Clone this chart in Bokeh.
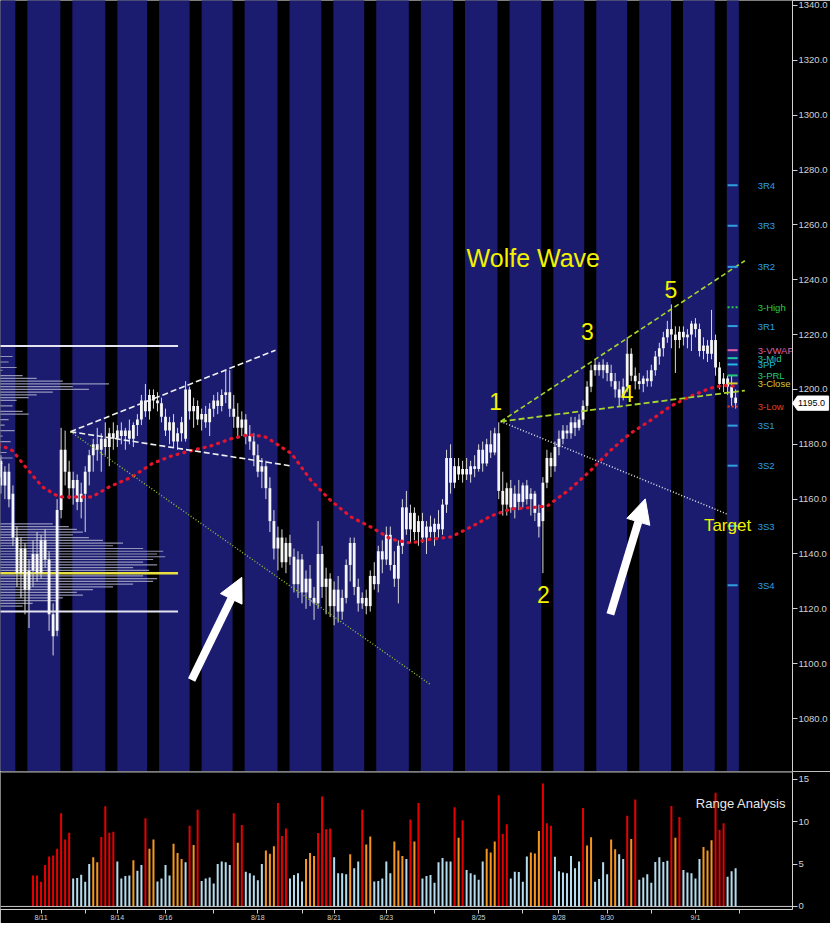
from bokeh.plotting import figure
from bokeh.layouts import column
from bokeh.models import (Range1d, FixedTicker, NumeralTickFormatter, Arrow,
                          NormalHead, Span)
from bokeh.core.properties import value
from bokeh.embed import file_html
from bokeh.resources import INLINE

# ---------------- price bars (OHLC) ----------------
opens = [1175,1172,1168,1174,1165,1170,1162,1146,1133,1142,
         1127,1134,1140,1133,1145,1138,1118,1112,1156,1178,
         1170,1164,1167,1159,1162,1170,1176,1180,1178,1182,
         1179,1184,1182,1185,1183,1185,1182,1187,1189,1196,
         1192,1198,1196,1195,1190,1185,1188,1181,1184,1182,
         1200,1192,1194,1189,1191,1188,1193,1196,1194,1198,
         1199,1193,1190,1186,1189,1183,1181,1176,1170,1172,
         1164,1152,1142,1146,1137,1144,1139,1129,1138,1126,
         1131,1124,1122,1140,1128,1131,1121,1127,1119,1124,
         1136,1144,1128,1122,1124,1121,1132,1129,1141,1138,
         1147,1136,1131,1143,1157,1149,1155,1148,1152,1146,
         1150,1148,1151,1149,1158,1175,1166,1172,1169,1171,
         1169,1172,1171,1178,1173,1180,1177,1184,1163,1158,
         1164,1157,1162,1159,1165,1160,1162,1155,1152,1166,
         1175,1172,1179,1182,1185,1184,1188,1186,1189,1194,
         1201,1207,1209,1207,1209,1206,1203,1200,1197,1201,
         1213,1205,1203,1202,1204,1203,1207,1212,1215,1219,
         1222,1220,1218,1221,1219,1220,1224,1222,1214,1216,
         1213,1218,1208,1202,1204,1201,1197]
highs = [1178,1176,1177,1176,1172,1173,1165,1150,1146,1144,
         1138,1145,1148,1147,1149,1141,1122,1160,1186,1185,
         1174,1170,1169,1166,1172,1178,1182,1186,1184,1188,
         1186,1188,1187,1188,1186,1189,1188,1191,1198,1202,
         1200,1200,1199,1197,1193,1190,1191,1186,1190,1203,
         1201,1197,1196,1193,1194,1195,1198,1199,1200,1207,
         1207,1198,1195,1192,1191,1187,1184,1180,1175,1174,
         1168,1156,1150,1149,1146,1147,1142,1141,1140,1134,
         1136,1128,1152,1143,1135,1133,1130,1132,1127,1138,
         1146,1146,1131,1126,1127,1134,1137,1143,1145,1150,
         1150,1141,1145,1160,1163,1158,1157,1154,1155,1152,
         1154,1153,1156,1160,1178,1180,1175,1175,1174,1175,
         1174,1176,1180,1181,1182,1185,1186,1188,1170,1166,
         1167,1165,1167,1166,1167,1164,1163,1158,1168,1178,
         1177,1181,1185,1187,1187,1190,1190,1191,1196,1203,
         1209,1211,1210,1211,1210,1209,1206,1203,1204,1219,
         1215,1208,1206,1205,1207,1209,1214,1217,1221,1225,
         1231,1223,1223,1223,1222,1225,1226,1224,1219,1218,
         1229,1220,1210,1206,1205,1205,1200]
lows = [1168,1165,1166,1162,1160,1157,1143,1128,1124,1118,
        1113,1128,1130,1131,1135,1112,1103,1110,1153,1165,
        1160,1158,1156,1153,1148,1165,1170,1174,1170,1176,
        1172,1178,1179,1180,1178,1180,1179,1183,1187,1190,
        1189,1193,1192,1188,1183,1180,1179,1178,1181,1181,
        1189,1186,1187,1185,1186,1183,1190,1191,1192,1195,
        1190,1186,1182,1183,1180,1178,1172,1168,1164,1160,
        1148,1138,1134,1135,1133,1136,1126,1124,1122,1120,
        1121,1116,1120,1124,1118,1117,1114,1115,1116,1122,
        1130,1125,1119,1120,1118,1119,1127,1126,1133,1136,
        1134,1128,1122,1140,1147,1144,1145,1143,1144,1140,
        1146,1143,1146,1147,1155,1162,1164,1167,1166,1167,
        1166,1168,1170,1170,1172,1175,1176,1160,1154,1154,
        1155,1153,1156,1157,1158,1154,1152,1146,1133,1164,
        1168,1170,1176,1180,1182,1182,1183,1185,1187,1192,
        1199,1205,1205,1204,1203,1201,1197,1194,1196,1199,
        1203,1200,1200,1199,1201,1201,1205,1209,1212,1217,
        1215,1206,1215,1216,1215,1214,1219,1212,1211,1210,
        1211,1205,1200,1199,1198,1194,1193]
closes = [1172,1168,1174,1165,1170,1160,1146,1133,1142,1127,
          1134,1140,1133,1145,1138,1118,1110,1156,1178,1170,
          1164,1167,1159,1162,1170,1176,1180,1178,1182,1179,
          1184,1182,1185,1183,1185,1182,1187,1189,1196,1192,
          1198,1196,1195,1190,1185,1188,1181,1184,1188,1200,
          1192,1194,1189,1191,1188,1193,1196,1194,1198,1199,
          1193,1190,1186,1189,1183,1181,1176,1170,1172,1164,
          1152,1142,1146,1137,1144,1139,1129,1138,1126,1131,
          1124,1122,1140,1128,1131,1121,1127,1119,1124,1136,
          1144,1128,1122,1124,1121,1132,1129,1141,1138,1147,
          1136,1131,1143,1157,1149,1155,1148,1152,1146,1150,
          1148,1151,1149,1158,1175,1166,1172,1169,1171,1169,
          1172,1171,1178,1173,1180,1177,1184,1163,1158,1164,
          1157,1162,1159,1165,1160,1162,1155,1150,1166,1175,
          1172,1179,1182,1185,1184,1188,1186,1189,1194,1201,
          1207,1209,1207,1209,1206,1203,1200,1197,1201,1213,
          1205,1203,1202,1204,1203,1207,1212,1215,1219,1222,
          1220,1218,1221,1219,1220,1224,1222,1214,1216,1213,
          1218,1208,1202,1204,1201,1197,1195]

# overnight session starts (bar units), each ~3 bars long
night_start_bars = [6.6, 17.8, 29.0, 39.4, 50.0, 60.7, 71.9, 82.8, 93.5, 104.6,
                    115.6, 126.7, 137.6, 148.3, 159.0, 169.9, 180.8]
night_len = 3.0
session_end_bar = 186.8

# moving average (red dotted)
ma_bars = [0.9,5.9,9.1,13.3,17.5,22.5,25.7,30.0,35.7,40.6,45.6,50.5,55.5,60.5,64.7,
           68.7,70.4,75.4,80.3,85.3,90.2,95.2,100.2,105.1,110.1,115.1,120.0,125.0,130.0,
           136.7,139.1,144.8,149.8,154.8,159.7,164.7,169.7,174.6,179.6,182.8,186.5]
ma_values = [1181.0,1177.7,1171.8,1164.5,1160.8,1160.8,1160.8,1164.5,1168.1,1172.9,
             1175.8,1177.7,1179.5,1182.1,1183.5,1182.8,1181.3,1176.6,1166.7,1159.3,
             1153.5,1149.8,1145.4,1144.0,1145.4,1146.2,1149.8,1153.8,1156.4,1157.1,
             1157.5,1163.7,1170.3,1177.7,1183.9,1188.6,1193.8,1197.4,1200.4,1201.5,1201.1]

# volume-at-price profile (left)
profile_prices = [1212,1210,1208,1207,1205,1204,1203,1202,1201,1200,1199,1198,1197,1196,
                  1194,1192,1191,1189,1187,1185,1183,1181,1179,1177,1175,1173,
                  1151,1150,1149,1148,1147,1146,1145,1144,1143,1142,1141,1140,1139,1138,
                  1137,1136,1135,1134,1133,1132,1131,1130,1129,1128,1127,1126,1125,1124,
                  1123,1122,1121]
profile_volume = [5,4,6,2.5,7.5,11,17.5,29,20,24,15,11,9,6,5,7.5,9,4,3,5.5,2.5,4.5,2,3.5,5,2.5,
                  15,19,21,22.5,20,24,27.5,32.5,30,37.5,42.5,41,43,40,37.5,41,35,39,42,37.5,
                  41,40,35,30,25,21,22.5,17.5,16,10,7.5]
profile_vah, profile_val, profile_poc = 1215.8, 1119.0, 1133.0
profile_span_bars = 46.2

# pivot levels
level_names = ["3R4","3R3","3R2","3-High","3R1","3-VWAP","3-Mid","3PP","3-PRL",
               "3-Close","3-Low","3S1","3S2","3S3","3S4"]
level_values = [1274.4,1259.7,1244.7,1230.0,1223.1,1214.3,1211.4,1209.1,1205.1,
                1202.2,1193.8,1186.8,1172.2,1150.2,1128.6]

# Wolfe wave annotation points (bar, price)
wedge_anchor = (20.3, 1184.6)
wedge_upper_end = (71.4, 1214.3)
wedge_lower_end = (74.9, 1172.2)
wedge_target_end = (110.1, 1092.3)
wolfe_p1 = (127.5, 1188.3)
wolfe_13_end = (188.3, 1246.9)
wolfe_14_end = (188.3, 1199.6)
wolfe_target_end = (183.8, 1154.6)
point_names = ["1", "2", "3", "4", "5"]
point_bars = [126.2, 138.1, 149.1, 159.0, 169.9]
point_prices = [1195.6, 1125.3, 1221.2, 1198.5, 1236.6]
arrows = [((50.5, 1094.1), (63.0, 1131.5)), ((154.8, 1118.0), (163.5, 1160.1))]
last_price = 1195.0

# range analysis (lower panel)
vol_values = [3.65,3.65,2.9,4.9,5.9,6.0,6.8,11.0,7.9,8.7,
              3.3,3.35,3.75,2.9,5.0, 5.8,5.2, 8.2,11.8,8.7,8.8, 5.3,3.3,3.6,3.65,
              5.45, 4.2,4.9, 10.4, 6.8,7.9, 2.95,3.3,4.9,3.65, 7.4,6.3,5.6, 5.2,
              9.5, 7.25, 11.4, 3.0,3.3,3.4,2.7,5.0,5.3,5.2,4.9, 11.0, 7.5, 9.6,
              4.1,3.9,3.65,3.1,5.0, 6.6,6.2,7.1, 12.2,8.3,9.2, 3.3,3.7,3.9,2.95,
              5.6,6.3,5.95, 8.65,12.95,9.1,9.2, 5.8,3.9,3.9,3.8, 6.15, 4.5,5.3,
              11.4, 7.3,8.25, 2.95,3.0,3.3,5.3,3.9, 7.65,6.6,5.95, 5.6, 10.25,
              7.65, 12.2, 3.3,3.6,3.7,2.8,5.2,5.7,5.3,5.3, 11.7, 8.1, 10.15,
              4.3,3.9,3.75,3.15,5.3, 6.8,6.35,7.65, 13.1,8.55,9.7,
              3.3,4.1,4.05,2.9,5.9, 6.35,6.25,8.9, 14.5,9.8,9.5,
              5.85,4.15,4.0,3.9,5.95,4.5,5.3, 11.6, 7.2,8.15, 2.9,3.25,5.2,3.8,
              7.9,6.75, 6.15,5.6, 10.7, 7.95, 12.6, 3.15,3.4,3.8,2.8,5.25,5.8,5.25,5.4,
              11.85, 8.1, 10.55, 4.3,4.0,3.9,3.3,5.6, 7.0,6.6,7.8, 13.4,9.0,9.8,
              3.5,4.15,4.5]
vol_class_runs = [("r",10),("b",5),("o",2),("r",4),("b",4),("o",1),("b",2),("r",1),("o",2),
                  ("b",4),("o",3),("b",1),("r",1),("o",1),("r",1),("b",8),("r",1),("o",1),
                  ("r",1),("b",5),("o",3),("r",3),("b",4),("o",3),("r",4),("b",4),("o",1),
                  ("b",2),("r",1),("o",2),("b",5),("o",3),("b",1),("r",1),("o",1),("r",1),
                  ("b",8),("r",1),("o",1),("r",1),("b",5),("o",3),("r",3),("b",5),("o",3),
                  ("r",3),("b",7),("r",1),("o",2),("b",4),("o",2),("b",2),("r",1),("o",1),
                  ("r",1),("b",8),("r",1),("o",1),("r",1),("b",5),("o",3),("r",3),("b",3)]

date_tick_bars = [13, 24, 32, 44, 56, 67, 78, 86, 99, 111, 122, 133, 142, 154, 165, 176, 187]
date_label_bars = [13, 32, 44, 67, 86, 99, 122, 142, 154, 176]
date_label_text = ["8/11", "8/14", "8/16", "8/18", "8/21", "8/23", "8/25", "8/28", "8/30", "9/1"]

# ---------------- styles ----------------
FONT = "Liberation Sans"
BLUE = "#1b1c70"
AXIS = "#d0d0d0"
CHART_LEFT_BAR = 0.92
level_colors = {"3R4": "#2f9fe0", "3R3": "#2f9fe0", "3R2": "#2f9fe0", "3R1": "#2f9fe0",
                "3S1": "#2f9fe0", "3S2": "#2f9fe0", "3S3": "#2f9fe0", "3S4": "#2f9fe0",
                "3-High": "#2ecc40", "3-VWAP": "#e060a0", "3-Mid": "#20c8a0",
                "3PP": "#22b8e8", "3-PRL": "#22cc77", "3-Close": "#d8c830", "3-Low": "#e04020"}
vol_colors = {"r": "#e60000", "o": "#f7961e", "b": "#b4dcee"}
WOLFE_GREEN = "#a6d62c"

n = len(closes)
bars = list(range(n))

# ---------------- main price panel ----------------
X_END = 200.17
p = figure(width=830, height=771, x_range=Range1d(2.9, X_END), y_range=Range1d(1060.7, 1341.8),
           output_backend="svg", toolbar_location=None, x_axis_location=None,
           y_axis_location="right", min_border_left=0, min_border_right=35,
           min_border_top=0, min_border_bottom=0, background_fill_color="black",
           border_fill_color="black", outline_line_color=None)
p.grid.visible = False

# session shading
blue_left = [-5.0] + [s + night_len for s in night_start_bars]
blue_right = night_start_bars + [session_end_bar]
p.quad(left=blue_left, right=blue_right, bottom=1000, top=1400, fill_color=BLUE, line_color=None)

# volume profile
p.segment(x0=[-5.0] * len(profile_prices), y0=profile_prices,
          x1=[CHART_LEFT_BAR + v for v in profile_volume], y1=profile_prices,
          line_color="#a8a8c8", line_width=1.2, line_alpha=0.85)
p.segment(x0=[-5.0, -5.0], y0=[profile_vah, profile_val],
          x1=[CHART_LEFT_BAR + profile_span_bars] * 2, y1=[profile_vah, profile_val],
          line_color="#e4e4f0", line_width=2)
p.segment(x0=[-5.0], y0=[profile_poc], x1=[CHART_LEFT_BAR + profile_span_bars], y1=[profile_poc],
          line_color="#e8e040", line_width=2.5)

# candles
p.segment(x0=bars, y0=lows, x1=bars, y1=highs, line_color="#d8d8d8", line_width=1)
tops = [max(o, c) + (0.4 if o == c else 0) for o, c in zip(opens, closes)]
bots = [min(o, c) for o, c in zip(opens, closes)]
p.vbar(x=bars, width=0.7, top=tops, bottom=bots, fill_color="#f6f6f6", line_color=None)

# moving average
p.line(ma_bars, ma_values, line_color="#e4142c", line_width=3.2, line_dash="1 6",
       line_cap="round")

# wedge lines (left)
p.line([wedge_anchor[0], wedge_upper_end[0]], [wedge_anchor[1], wedge_upper_end[1]],
       line_color="#f0f0f0", line_width=1.6, line_dash="6 3")
p.line([wedge_anchor[0], wedge_lower_end[0]], [wedge_anchor[1], wedge_lower_end[1]],
       line_color="#f0f0f0", line_width=1.6, line_dash="6 3")
p.line([wedge_anchor[0], wedge_target_end[0]], [wedge_anchor[1], wedge_target_end[1]],
       line_color="#98cc30", line_width=1.3, line_dash="1 2")

# Wolfe wave lines
p.line([wolfe_p1[0], wolfe_13_end[0]], [wolfe_p1[1], wolfe_13_end[1]],
       line_color=WOLFE_GREEN, line_width=1.6, line_dash="5 3")
p.line([wolfe_p1[0], wolfe_14_end[0]], [wolfe_p1[1], wolfe_14_end[1]],
       line_color=WOLFE_GREEN, line_width=1.8, line_dash="6 3")
p.line([wolfe_p1[0], wolfe_target_end[0]], [wolfe_p1[1], wolfe_target_end[1]],
       line_color="#e8e8e8", line_width=1.5, line_dash="1 2")

# arrows
for (x0, y0), (x1, y1) in arrows:
    p.add_layout(Arrow(end=NormalHead(size=24, fill_color="white", line_color="white"),
                       x_start=x0, y_start=y0, x_end=x1, y_end=y1,
                       line_color="white", line_width=8))

# pivot level markers and labels
for name, val in zip(level_names, level_values):
    dash = "2 2" if name in ("3-High", "3-Low") else "solid"
    p.segment(x0=[184.0], y0=[val], x1=[186.5], y1=[val], line_color=level_colors[name],
              line_width=2, line_dash=dash)
p.text(x=[191.5] * len(level_names), y=level_values, text=level_names,
       text_color=[level_colors[nm] for nm in level_names], text_font=value(FONT),
       text_font_size=value("9.5px"), text_baseline="middle", text_align="left")

# texts
p.text(x=[119.0], y=[1248.0], text=["Wolfe Wave"], text_color="#f2f200",
       text_font=value(FONT), text_font_size=value("25px"), text_baseline="middle",
       text_align="left")
p.text(x=point_bars, y=point_prices, text=point_names, text_color="#f2f200",
       text_font=value(FONT), text_font_size=value("23px"), text_baseline="middle",
       text_align="center")
p.text(x=[178.1], y=[1150.5], text=["Target"], text_color="#f2f200",
       text_font=value(FONT), text_font_size=value("17px"), text_baseline="middle",
       text_align="left")

# right price axis
yax = p.yaxis[0]
yax.ticker = FixedTicker(ticks=list(range(1080, 1341, 20)))
yax.formatter = NumeralTickFormatter(format="0.0")
yax.axis_line_color = AXIS
yax.major_tick_line_color = AXIS
yax.major_tick_out = 5
yax.major_tick_in = 0
yax.minor_tick_line_color = None
yax.major_label_standoff = 1
yax.major_label_text_color = AXIS
yax.major_label_text_font = FONT
yax.major_label_text_font_size = "9.5px"

# last-price marker on the axis (drawn above the axis, outside the frame)
box_x = [X_END, X_END + 1.25, X_END + 9.0, X_END + 9.0, X_END + 1.25]
box_y = [last_price, last_price + 2.6, last_price + 2.6, last_price - 2.6, last_price - 2.6]
p.patch(box_x, box_y, fill_color="white", line_color="white", level="overlay")
p.text(x=[X_END + 1.4], y=[last_price], text=["%.1f" % last_price], text_color="black",
       text_font=value(FONT), text_font_size=value("9px"), text_baseline="middle",
       text_align="left", level="overlay")

# ---------------- range analysis panel ----------------
v = figure(width=830, height=152, x_range=p.x_range, y_range=Range1d(-0.36, 15.91),
           output_backend="svg", toolbar_location=None, y_axis_location="right",
           min_border_left=0, min_border_right=35, min_border_top=0, min_border_bottom=0,
           background_fill_color="black", border_fill_color="black", outline_line_color=None)
v.grid.visible = False

vol_class = []
for code, cnt in vol_class_runs:
    vol_class += [code] * cnt
vol_start = n - len(vol_values)
vol_x = list(range(vol_start, n))
v.vbar(x=vol_x, width=0.5, top=vol_values, bottom=0,
       fill_color=[vol_colors[c] for c in vol_class], line_color=None)
v.add_layout(Span(location=0, dimension="width", line_color="#c8c8c8", line_width=1))
v.add_layout(Span(location=15.82, dimension="width", line_color="#7a7a7a", line_width=1))
v.text(x=[176.1], y=[12.1], text=["Range Analysis"], text_color="#e8e8e8",
       text_font=value(FONT), text_font_size=value("13px"), text_baseline="middle",
       text_align="left")

vy = v.yaxis[0]
vy.ticker = FixedTicker(ticks=[0, 5, 10, 15])
vy.axis_line_color = AXIS
vy.major_tick_line_color = AXIS
vy.major_tick_out = 5
vy.major_tick_in = 0
vy.minor_tick_line_color = None
vy.major_label_standoff = 1
vy.major_label_text_color = AXIS
vy.major_label_text_font = FONT
vy.major_label_text_font_size = "9.5px"

vx = v.xaxis[0]
vx.ticker = FixedTicker(ticks=date_tick_bars)
overrides = {t: "" for t in date_tick_bars}
for b, t in zip(date_label_bars, date_label_text):
    overrides[b] = t
vx.major_label_overrides = overrides
vx.axis_line_color = AXIS
vx.major_tick_line_color = AXIS
vx.major_tick_out = 4
vx.major_tick_in = 0
vx.minor_tick_line_color = None
vx.major_label_standoff = 0
vx.major_label_text_color = AXIS
vx.major_label_text_font = FONT
vx.major_label_text_font_size = "7px"

layout = column(p, v)
open("out.html", "w").write(file_html(layout, INLINE, title="Wolfe Wave"))
